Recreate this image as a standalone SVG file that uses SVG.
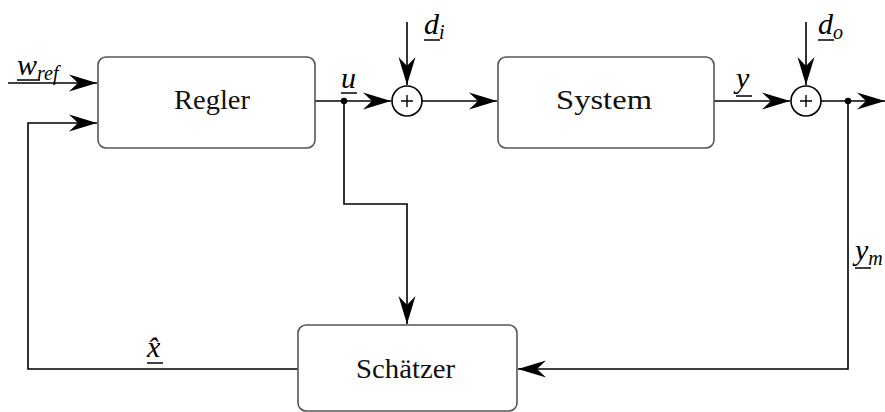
<svg xmlns="http://www.w3.org/2000/svg" width="885" height="412" viewBox="0 0 885 412">
<style>
.box{fill:#fff;stroke:#555;stroke-width:1.6}
.ln{fill:none;stroke:#000;stroke-width:1.6}
.lbl{font-family:"Liberation Serif","DejaVu Serif",serif;font-size:27px;fill:#111}
.m{font-family:"Liberation Serif","DejaVu Serif",serif;font-style:italic;font-size:30px;fill:#000}
.sub{font-size:20px}
.ul{stroke:#000;stroke-width:1.5}
</style>
<defs>
<marker id="ah" viewBox="-29 -9 30 18" refX="0" refY="0" markerWidth="30" markerHeight="18" markerUnits="userSpaceOnUse" orient="auto">
<path d="M0,0 L-28,-8.5 L-19,0 L-28,8.5 Z" fill="#000"/>
</marker>
</defs>
<g id="connectors">
<line class="ln" x1="8" y1="83" x2="97" y2="83" marker-end="url(#ah)"/>
<polyline class="ln" points="298,369 28,369 28,123 97,123" marker-end="url(#ah)"/>
<line class="ln" x1="315" y1="101" x2="391" y2="101" marker-end="url(#ah)"/>
<line class="ln" x1="407" y1="22" x2="407" y2="85" marker-end="url(#ah)"/>
<line class="ln" x1="422" y1="101" x2="497" y2="101" marker-end="url(#ah)"/>
<polyline class="ln" points="344,101 344,204 407,204 407,324" marker-end="url(#ah)"/>
<line class="ln" x1="714" y1="101" x2="790" y2="101" marker-end="url(#ah)"/>
<line class="ln" x1="806" y1="22" x2="806" y2="85" marker-end="url(#ah)"/>
<line class="ln" x1="821" y1="101" x2="885" y2="101" marker-end="url(#ah)"/>
<polyline class="ln" points="848,101 848,369 518,369" marker-end="url(#ah)"/>
<circle cx="344" cy="101" r="3.2" fill="#000"/>
<circle cx="848" cy="101" r="3.2" fill="#000"/>
</g>
<g id="regler">
<rect class="box" x="98" y="57" width="217" height="91" rx="8"/>
<text class="lbl" x="174" y="109" textLength="76" lengthAdjust="spacingAndGlyphs">Regler</text>
</g>
<g id="system">
<rect class="box" x="498" y="57" width="216" height="91" rx="8"/>
<text class="lbl" x="556" y="109" textLength="96" lengthAdjust="spacingAndGlyphs">System</text>
</g>
<g id="schaetzer">
<rect class="box" x="298" y="325" width="219" height="86" rx="8"/>
<text class="lbl" x="356" y="378" textLength="99" lengthAdjust="spacingAndGlyphs">Schätzer</text>
</g>
<g id="sum1">
<circle cx="407" cy="101" r="15" fill="#fff" stroke="#000" stroke-width="1.6"/>
<path d="M401,101 H413 M407,95 V107" stroke="#000" stroke-width="1.4"/>
</g>
<g id="sum2">
<circle cx="806" cy="101" r="15" fill="#fff" stroke="#000" stroke-width="1.6"/>
<path d="M800,101 H812 M806,95 V107" stroke="#000" stroke-width="1.4"/>
</g>
<g id="labels">
<text class="m" x="17" y="75">w<tspan class="sub" dy="5">ref</tspan></text>
<line class="ul" x1="17" y1="80" x2="40" y2="80"/>
<text class="m" x="341" y="88">u</text>
<line class="ul" x1="341" y1="93" x2="357" y2="93"/>
<text class="m" x="424" y="34">d<tspan class="sub" dy="5">i</tspan></text>
<line class="ul" x1="424" y1="40" x2="440" y2="40"/>
<text class="m" x="736" y="88">y</text>
<line class="ul" x1="736" y1="96" x2="752" y2="96"/>
<text class="m" x="818" y="34">d<tspan class="sub" dy="5">o</tspan></text>
<line class="ul" x1="818" y1="40" x2="834" y2="40"/>
<text class="m" x="855" y="260">y<tspan class="sub" dy="5">m</tspan></text>
<line class="ul" x1="855" y1="268" x2="871" y2="268"/>
<text class="m" x="147" y="357">x̂</text>
<line class="ul" x1="147" y1="363" x2="163" y2="363"/>
</g>
</svg>
